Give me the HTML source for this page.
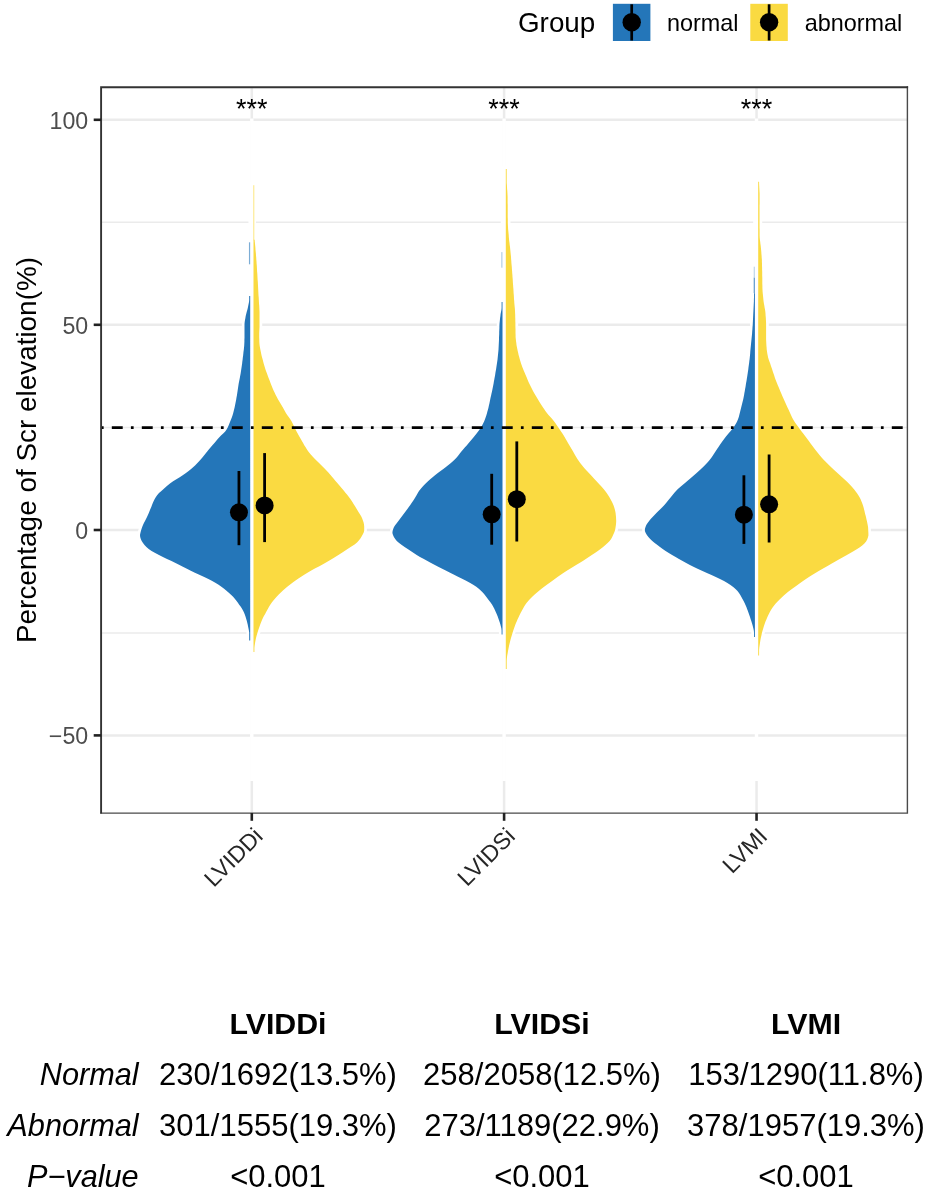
<!DOCTYPE html>
<html lang="en"><head><meta charset="utf-8"><title>Split violin plot</title>
<style>html,body{margin:0;padding:0;background:#fff}svg{display:block}svg text{font-family:"Liberation Sans",sans-serif}</style></head>
<body>
<svg width="925" height="1192" viewBox="0 0 925 1192">
<rect width="925" height="1192" fill="#fff"/>
<g stroke="#ebebeb" fill="none">
<line x1="101.0" x2="907.5" y1="222.3" y2="222.3" stroke-width="1.45"/>
<line x1="101.0" x2="907.5" y1="427.4" y2="427.4" stroke-width="1.45"/>
<line x1="101.0" x2="907.5" y1="632.9" y2="632.9" stroke-width="1.45"/>
<line x1="101.0" x2="907.5" y1="119.8" y2="119.8" stroke-width="2.5"/>
<line x1="101.0" x2="907.5" y1="324.8" y2="324.8" stroke-width="2.5"/>
<line x1="101.0" x2="907.5" y1="530.0" y2="530.0" stroke-width="2.5"/>
<line x1="101.0" x2="907.5" y1="735.4" y2="735.4" stroke-width="2.5"/>
<line x1="251.8" x2="251.8" y1="87.0" y2="813.0" stroke-width="2.5"/>
<line x1="504.1" x2="504.1" y1="87.0" y2="813.0" stroke-width="2.5"/>
<line x1="756.55" x2="756.55" y1="87.0" y2="813.0" stroke-width="2.5"/>
</g>
<path d="M250.2,296.0L249.2,296.0L249.2,298.0L249.2,300.0L249.0,302.0L248.6,304.0L248.2,306.0L247.8,307.9L247.3,309.9L246.7,311.9L246.2,313.9L245.7,315.9L245.4,317.9L245.0,319.9L244.7,321.9L244.5,323.9L244.5,325.9L244.5,327.9L244.5,329.9L244.5,331.8L244.5,333.8L244.5,335.8L244.5,337.8L244.4,339.8L244.4,341.8L244.3,343.8L244.2,345.8L244.0,347.8L243.8,349.8L243.5,351.8L243.3,353.7L243.1,355.7L242.8,357.7L242.6,359.7L242.3,361.7L242.1,363.7L241.8,365.7L241.5,367.7L241.2,369.7L240.9,371.7L240.6,373.7L240.2,375.7L239.9,377.6L239.5,379.6L239.1,381.6L238.7,383.6L238.4,385.6L238.1,387.6L237.8,389.6L237.5,391.6L237.2,393.6L236.9,395.6L236.5,397.6L236.2,399.5L235.8,401.5L235.4,403.5L235.0,405.5L234.6,407.5L234.1,409.5L233.6,411.5L233.1,413.5L232.5,415.5L231.8,417.5L231.0,419.5L230.2,421.5L229.4,423.4L228.6,425.4L227.7,427.4L226.6,429.4L225.2,431.4L223.2,433.4L221.0,435.4L219.1,437.4L217.3,439.4L215.7,441.4L214.0,443.4L212.4,445.3L210.7,447.3L209.0,449.3L207.4,451.3L205.8,453.3L204.2,455.3L202.6,457.3L200.9,459.3L199.1,461.3L197.2,463.3L195.3,465.3L193.1,467.3L190.8,469.2L188.3,471.2L185.6,473.2L182.7,475.2L179.7,477.2L176.4,479.2L173.1,481.2L170.3,483.2L167.8,485.2L165.5,487.2L163.3,489.2L161.1,491.2L159.0,493.1L157.3,495.1L155.9,497.1L154.7,499.1L153.7,501.1L152.8,503.1L152.0,505.1L151.3,507.1L150.4,509.1L149.6,511.1L148.8,513.1L147.9,515.0L147.0,517.0L146.0,519.0L145.0,521.0L143.9,523.0L143.0,525.0L142.2,527.0L141.5,529.0L140.9,531.0L140.4,533.0L140.0,535.0L140.2,537.0L140.8,538.9L141.7,540.9L143.0,542.9L144.5,544.9L146.4,546.9L148.7,548.9L151.6,550.9L155.2,552.9L159.0,554.9L162.9,556.9L167.0,558.9L171.0,560.8L175.0,562.8L179.0,564.8L182.9,566.8L186.9,568.8L190.8,570.8L194.9,572.8L199.3,574.8L203.7,576.8L207.9,578.8L211.8,580.8L215.3,582.8L218.6,584.7L221.4,586.7L224.1,588.7L226.5,590.7L228.8,592.7L231.0,594.7L233.1,596.7L234.8,598.7L236.4,600.7L237.9,602.7L239.2,604.7L240.6,606.6L241.9,608.6L243.0,610.6L244.0,612.6L244.8,614.6L245.5,616.6L246.1,618.6L246.7,620.6L247.2,622.6L247.7,624.6L248.1,626.6L248.5,628.6L248.9,630.5L249.2,632.5L249.2,634.5L249.2,636.5L249.2,638.5L249.2,640.5L250.2,640.5Z" fill="#fff" stroke="#fff" stroke-width="5.4" stroke-linejoin="round"/>
<path d="M253.5,239.7L254.6,239.7L254.8,241.7L255.0,243.7L255.2,245.7L255.4,247.7L255.5,249.7L255.7,251.7L255.9,253.6L256.0,255.6L256.2,257.6L256.3,259.6L256.5,261.6L256.6,263.6L256.8,265.6L256.9,267.6L257.0,269.6L257.1,271.6L257.3,273.6L257.4,275.6L257.5,277.5L257.6,279.5L257.8,281.5L257.9,283.5L258.0,285.5L258.1,287.5L258.2,289.5L258.3,291.5L258.4,293.5L258.5,295.5L258.7,297.5L258.8,299.5L258.9,301.4L259.0,303.4L259.2,305.4L259.3,307.4L259.4,309.4L259.5,311.4L259.5,313.4L259.5,315.4L259.5,317.4L259.5,319.4L259.5,321.4L259.5,323.4L259.5,325.3L259.5,327.3L259.4,329.3L259.3,331.3L259.2,333.3L259.2,335.3L259.2,337.3L259.3,339.3L259.3,341.3L259.4,343.3L259.6,345.3L259.9,347.3L260.3,349.2L260.7,351.2L261.1,353.2L261.5,355.2L262.0,357.2L262.6,359.2L263.1,361.2L263.6,363.2L264.2,365.2L264.8,367.2L265.4,369.2L266.1,371.2L266.8,373.1L267.5,375.1L268.2,377.1L269.0,379.1L269.8,381.1L270.5,383.1L271.3,385.1L272.1,387.1L272.9,389.1L273.8,391.1L274.8,393.1L275.7,395.1L276.8,397.1L277.8,399.0L279.0,401.0L280.2,403.0L281.4,405.0L282.6,407.0L283.7,409.0L284.8,411.0L285.9,413.0L287.2,415.0L288.7,417.0L290.1,419.0L291.4,421.0L292.4,422.9L293.4,424.9L294.3,426.9L295.3,428.9L296.3,430.9L297.4,432.9L298.5,434.9L299.6,436.9L300.8,438.9L301.9,440.9L303.1,442.9L304.1,444.9L305.3,446.8L306.5,448.8L307.8,450.8L309.3,452.8L311.0,454.8L312.8,456.8L314.7,458.8L316.7,460.8L318.8,462.8L320.8,464.8L322.8,466.8L324.8,468.8L326.7,470.7L328.6,472.7L330.3,474.7L332.0,476.7L333.7,478.7L335.3,480.7L337.1,482.7L338.8,484.7L340.5,486.7L342.2,488.7L343.9,490.7L345.4,492.7L347.0,494.6L348.5,496.6L350.0,498.6L351.4,500.6L352.7,502.6L353.9,504.6L355.2,506.6L356.4,508.6L357.6,510.6L358.8,512.6L360.1,514.6L361.3,516.6L362.2,518.6L362.9,520.5L363.6,522.5L364.0,524.5L364.2,526.5L364.2,528.5L364.2,530.5L363.7,532.5L362.7,534.5L361.6,536.5L360.4,538.5L358.8,540.5L357.0,542.5L354.6,544.4L351.4,546.4L348.3,548.4L345.3,550.4L342.3,552.4L339.2,554.4L336.0,556.4L332.8,558.4L329.4,560.4L326.0,562.4L322.5,564.4L318.9,566.4L315.3,568.3L311.7,570.3L308.3,572.3L305.0,574.3L301.9,576.3L298.8,578.3L295.9,580.3L293.1,582.3L290.5,584.3L287.9,586.3L285.5,588.3L283.2,590.3L281.1,592.2L279.0,594.2L277.1,596.2L275.3,598.2L273.6,600.2L272.0,602.2L270.6,604.2L269.3,606.2L268.2,608.2L267.1,610.2L266.0,612.2L265.0,614.2L263.9,616.1L262.9,618.1L262.0,620.1L261.2,622.1L260.4,624.1L259.7,626.1L259.0,628.1L258.3,630.1L257.7,632.1L257.1,634.1L256.5,636.1L256.0,638.1L255.6,640.0L255.2,642.0L254.9,644.0L254.6,646.0L254.4,648.0L254.4,650.0L254.4,652.0L253.5,652.0Z" fill="#fff" stroke="#fff" stroke-width="5.4" stroke-linejoin="round"/>
<line x1="251.8" x2="251.8" y1="118.4" y2="781" stroke="#fff" stroke-width="3.4"/>
<line x1="252.2" x2="252.2" y1="182.2" y2="296.0" stroke="#fff" stroke-width="7.5"/>
<path d="M250.2,296.0L249.2,296.0L249.2,298.0L249.2,300.0L249.0,302.0L248.6,304.0L248.2,306.0L247.8,307.9L247.3,309.9L246.7,311.9L246.2,313.9L245.7,315.9L245.4,317.9L245.0,319.9L244.7,321.9L244.5,323.9L244.5,325.9L244.5,327.9L244.5,329.9L244.5,331.8L244.5,333.8L244.5,335.8L244.5,337.8L244.4,339.8L244.4,341.8L244.3,343.8L244.2,345.8L244.0,347.8L243.8,349.8L243.5,351.8L243.3,353.7L243.1,355.7L242.8,357.7L242.6,359.7L242.3,361.7L242.1,363.7L241.8,365.7L241.5,367.7L241.2,369.7L240.9,371.7L240.6,373.7L240.2,375.7L239.9,377.6L239.5,379.6L239.1,381.6L238.7,383.6L238.4,385.6L238.1,387.6L237.8,389.6L237.5,391.6L237.2,393.6L236.9,395.6L236.5,397.6L236.2,399.5L235.8,401.5L235.4,403.5L235.0,405.5L234.6,407.5L234.1,409.5L233.6,411.5L233.1,413.5L232.5,415.5L231.8,417.5L231.0,419.5L230.2,421.5L229.4,423.4L228.6,425.4L227.7,427.4L226.6,429.4L225.2,431.4L223.2,433.4L221.0,435.4L219.1,437.4L217.3,439.4L215.7,441.4L214.0,443.4L212.4,445.3L210.7,447.3L209.0,449.3L207.4,451.3L205.8,453.3L204.2,455.3L202.6,457.3L200.9,459.3L199.1,461.3L197.2,463.3L195.3,465.3L193.1,467.3L190.8,469.2L188.3,471.2L185.6,473.2L182.7,475.2L179.7,477.2L176.4,479.2L173.1,481.2L170.3,483.2L167.8,485.2L165.5,487.2L163.3,489.2L161.1,491.2L159.0,493.1L157.3,495.1L155.9,497.1L154.7,499.1L153.7,501.1L152.8,503.1L152.0,505.1L151.3,507.1L150.4,509.1L149.6,511.1L148.8,513.1L147.9,515.0L147.0,517.0L146.0,519.0L145.0,521.0L143.9,523.0L143.0,525.0L142.2,527.0L141.5,529.0L140.9,531.0L140.4,533.0L140.0,535.0L140.2,537.0L140.8,538.9L141.7,540.9L143.0,542.9L144.5,544.9L146.4,546.9L148.7,548.9L151.6,550.9L155.2,552.9L159.0,554.9L162.9,556.9L167.0,558.9L171.0,560.8L175.0,562.8L179.0,564.8L182.9,566.8L186.9,568.8L190.8,570.8L194.9,572.8L199.3,574.8L203.7,576.8L207.9,578.8L211.8,580.8L215.3,582.8L218.6,584.7L221.4,586.7L224.1,588.7L226.5,590.7L228.8,592.7L231.0,594.7L233.1,596.7L234.8,598.7L236.4,600.7L237.9,602.7L239.2,604.7L240.6,606.6L241.9,608.6L243.0,610.6L244.0,612.6L244.8,614.6L245.5,616.6L246.1,618.6L246.7,620.6L247.2,622.6L247.7,624.6L248.1,626.6L248.5,628.6L248.9,630.5L249.2,632.5L249.2,634.5L249.2,636.5L249.2,638.5L249.2,640.5L250.2,640.5Z" fill="#2476B9"/>
<path d="M253.5,239.7L254.6,239.7L254.8,241.7L255.0,243.7L255.2,245.7L255.4,247.7L255.5,249.7L255.7,251.7L255.9,253.6L256.0,255.6L256.2,257.6L256.3,259.6L256.5,261.6L256.6,263.6L256.8,265.6L256.9,267.6L257.0,269.6L257.1,271.6L257.3,273.6L257.4,275.6L257.5,277.5L257.6,279.5L257.8,281.5L257.9,283.5L258.0,285.5L258.1,287.5L258.2,289.5L258.3,291.5L258.4,293.5L258.5,295.5L258.7,297.5L258.8,299.5L258.9,301.4L259.0,303.4L259.2,305.4L259.3,307.4L259.4,309.4L259.5,311.4L259.5,313.4L259.5,315.4L259.5,317.4L259.5,319.4L259.5,321.4L259.5,323.4L259.5,325.3L259.5,327.3L259.4,329.3L259.3,331.3L259.2,333.3L259.2,335.3L259.2,337.3L259.3,339.3L259.3,341.3L259.4,343.3L259.6,345.3L259.9,347.3L260.3,349.2L260.7,351.2L261.1,353.2L261.5,355.2L262.0,357.2L262.6,359.2L263.1,361.2L263.6,363.2L264.2,365.2L264.8,367.2L265.4,369.2L266.1,371.2L266.8,373.1L267.5,375.1L268.2,377.1L269.0,379.1L269.8,381.1L270.5,383.1L271.3,385.1L272.1,387.1L272.9,389.1L273.8,391.1L274.8,393.1L275.7,395.1L276.8,397.1L277.8,399.0L279.0,401.0L280.2,403.0L281.4,405.0L282.6,407.0L283.7,409.0L284.8,411.0L285.9,413.0L287.2,415.0L288.7,417.0L290.1,419.0L291.4,421.0L292.4,422.9L293.4,424.9L294.3,426.9L295.3,428.9L296.3,430.9L297.4,432.9L298.5,434.9L299.6,436.9L300.8,438.9L301.9,440.9L303.1,442.9L304.1,444.9L305.3,446.8L306.5,448.8L307.8,450.8L309.3,452.8L311.0,454.8L312.8,456.8L314.7,458.8L316.7,460.8L318.8,462.8L320.8,464.8L322.8,466.8L324.8,468.8L326.7,470.7L328.6,472.7L330.3,474.7L332.0,476.7L333.7,478.7L335.3,480.7L337.1,482.7L338.8,484.7L340.5,486.7L342.2,488.7L343.9,490.7L345.4,492.7L347.0,494.6L348.5,496.6L350.0,498.6L351.4,500.6L352.7,502.6L353.9,504.6L355.2,506.6L356.4,508.6L357.6,510.6L358.8,512.6L360.1,514.6L361.3,516.6L362.2,518.6L362.9,520.5L363.6,522.5L364.0,524.5L364.2,526.5L364.2,528.5L364.2,530.5L363.7,532.5L362.7,534.5L361.6,536.5L360.4,538.5L358.8,540.5L357.0,542.5L354.6,544.4L351.4,546.4L348.3,548.4L345.3,550.4L342.3,552.4L339.2,554.4L336.0,556.4L332.8,558.4L329.4,560.4L326.0,562.4L322.5,564.4L318.9,566.4L315.3,568.3L311.7,570.3L308.3,572.3L305.0,574.3L301.9,576.3L298.8,578.3L295.9,580.3L293.1,582.3L290.5,584.3L287.9,586.3L285.5,588.3L283.2,590.3L281.1,592.2L279.0,594.2L277.1,596.2L275.3,598.2L273.6,600.2L272.0,602.2L270.6,604.2L269.3,606.2L268.2,608.2L267.1,610.2L266.0,612.2L265.0,614.2L263.9,616.1L262.9,618.1L262.0,620.1L261.2,622.1L260.4,624.1L259.7,626.1L259.0,628.1L258.3,630.1L257.7,632.1L257.1,634.1L256.5,636.1L256.0,638.1L255.6,640.0L255.2,642.0L254.9,644.0L254.6,646.0L254.4,648.0L254.4,650.0L254.4,652.0L253.5,652.0Z" fill="#FADA41"/>
<rect x="253.15" y="185.2" width="1.2" height="55.0" fill="#FADA41" opacity="0.55"/>
<rect x="248.95" y="242.3" width="1.2" height="22.0" fill="#2476B9" opacity="0.6"/>
<path d="M502.5,302.0L501.6,302.0L501.6,304.0L501.6,306.0L501.6,308.0L501.4,310.0L501.0,312.0L500.6,313.9L500.4,315.9L500.1,317.9L499.9,319.9L499.7,321.9L499.5,323.9L499.4,325.9L499.4,327.9L499.3,329.9L499.2,331.9L499.2,333.9L499.1,335.8L499.0,337.8L499.0,339.8L498.9,341.8L498.8,343.8L498.7,345.8L498.6,347.8L498.5,349.8L498.3,351.8L498.1,353.8L497.9,355.8L497.7,357.7L497.5,359.7L497.2,361.7L496.9,363.7L496.6,365.7L496.3,367.7L496.0,369.7L495.6,371.7L495.3,373.7L495.0,375.7L494.6,377.7L494.3,379.6L493.9,381.6L493.6,383.6L493.2,385.6L492.8,387.6L492.4,389.6L492.0,391.6L491.5,393.6L491.1,395.6L490.6,397.6L490.2,399.6L489.8,401.6L489.4,403.5L488.9,405.5L488.5,407.5L488.0,409.5L487.4,411.5L486.9,413.5L486.3,415.5L485.6,417.5L484.9,419.5L484.1,421.5L483.1,423.5L482.1,425.4L480.9,427.4L479.6,429.4L478.1,431.4L476.6,433.4L475.0,435.4L473.4,437.4L471.7,439.4L470.0,441.4L468.3,443.4L466.7,445.4L465.0,447.3L463.3,449.3L461.6,451.3L460.0,453.3L458.5,455.3L456.9,457.3L455.0,459.3L452.9,461.3L450.6,463.3L448.1,465.3L445.6,467.3L443.0,469.2L440.2,471.2L437.5,473.2L435.0,475.2L432.6,477.2L430.2,479.2L428.0,481.2L425.9,483.2L423.9,485.2L422.1,487.2L420.4,489.2L419.0,491.1L417.8,493.1L416.7,495.1L415.5,497.1L414.3,499.1L413.0,501.1L411.6,503.1L410.3,505.1L408.8,507.1L407.4,509.1L405.9,511.1L404.4,513.0L402.9,515.0L401.4,517.0L399.9,519.0L398.4,521.0L396.9,523.0L395.3,525.0L394.0,527.0L393.2,529.0L392.6,531.0L392.4,533.0L393.0,534.9L393.9,536.9L395.2,538.9L396.8,540.9L399.1,542.9L401.8,544.9L404.6,546.9L407.7,548.9L410.7,550.9L413.7,552.9L416.7,554.9L420.0,556.9L423.4,558.8L427.0,560.8L430.6,562.8L434.4,564.8L438.2,566.8L442.2,568.8L446.2,570.8L450.1,572.8L454.1,574.8L458.0,576.8L462.1,578.8L466.1,580.7L469.8,582.7L473.2,584.7L476.3,586.7L478.8,588.7L481.0,590.7L483.0,592.7L484.7,594.7L486.2,596.7L487.7,598.7L489.2,600.7L490.6,602.6L492.0,604.6L493.1,606.6L494.2,608.6L495.1,610.6L496.0,612.6L496.9,614.6L497.7,616.6L498.4,618.6L499.1,620.6L499.8,622.6L500.4,624.5L500.9,626.5L501.4,628.5L501.6,630.5L501.6,632.5L501.6,634.5L502.5,634.5Z" fill="#fff" stroke="#fff" stroke-width="5.4" stroke-linejoin="round"/>
<path d="M505.8,169.1L506.7,169.1L506.7,171.1L506.7,173.1L506.7,175.1L506.7,177.1L506.7,179.1L506.7,181.1L506.7,183.1L506.9,185.1L507.0,187.1L507.1,189.1L507.3,191.1L507.4,193.1L507.5,195.1L507.6,197.1L507.6,199.1L507.6,201.1L507.6,203.1L507.7,205.1L507.7,207.1L507.7,209.1L507.7,211.1L507.7,213.1L507.7,215.1L507.7,217.1L507.8,219.1L507.8,221.1L507.8,223.1L507.9,225.1L508.0,227.1L508.1,229.1L508.3,231.1L508.5,233.1L508.7,235.1L508.8,237.1L509.0,239.1L509.2,241.1L509.5,243.1L509.7,245.1L510.0,247.1L510.2,249.1L510.4,251.1L510.6,253.1L510.8,255.1L511.0,257.1L511.1,259.1L511.3,261.1L511.4,263.1L511.6,265.1L511.8,267.1L511.9,269.1L512.1,271.1L512.2,273.1L512.4,275.1L512.5,277.1L512.7,279.1L512.8,281.1L512.9,283.1L513.1,285.1L513.2,287.1L513.4,289.1L513.5,291.1L513.6,293.1L513.8,295.1L513.9,297.1L514.0,299.1L514.2,301.1L514.3,303.1L514.5,305.1L514.7,307.1L514.9,309.1L515.0,311.1L515.1,313.1L515.2,315.1L515.2,317.1L515.3,319.1L515.3,321.1L515.4,323.1L515.4,325.1L515.4,327.1L515.5,329.1L515.5,331.1L515.5,333.1L515.6,335.1L515.6,337.1L515.8,339.1L516.0,341.1L516.3,343.1L516.5,345.1L516.9,347.1L517.3,349.1L517.7,351.1L518.2,353.1L518.6,355.1L519.2,357.1L519.7,359.1L520.3,361.1L520.9,363.1L521.6,365.1L522.3,367.1L523.1,369.1L523.9,371.1L524.8,373.1L525.6,375.1L526.5,377.1L527.3,379.1L528.1,381.1L529.0,383.1L530.0,385.1L531.0,387.1L532.0,389.1L533.0,391.1L534.1,393.1L535.3,395.1L536.5,397.1L537.7,399.1L538.9,401.1L540.1,403.1L541.4,405.1L542.7,407.1L544.1,409.1L545.4,411.1L546.9,413.1L548.5,415.1L550.4,417.1L552.2,419.0L553.8,421.0L555.3,423.0L556.6,425.0L558.0,427.0L559.4,429.0L560.7,431.0L562.1,433.0L563.4,435.0L564.6,437.0L565.7,439.0L566.9,441.0L568.0,443.0L569.2,445.0L570.4,447.0L571.6,449.0L572.8,451.0L573.9,453.0L575.0,455.0L576.2,457.0L577.4,459.0L578.8,461.0L580.2,463.0L581.8,465.0L583.4,467.0L585.1,469.0L587.0,471.0L588.9,473.0L590.8,475.0L592.6,477.0L594.4,479.0L596.3,481.0L598.1,483.0L600.0,485.0L601.9,487.0L603.6,489.0L605.2,491.0L606.7,493.0L608.0,495.0L609.3,497.0L610.4,499.0L611.5,501.0L612.5,503.0L613.4,505.0L614.1,507.0L614.7,509.0L615.2,511.0L615.6,513.0L615.8,515.0L616.0,517.0L616.1,519.0L616.2,521.0L616.1,523.0L615.9,525.0L615.6,527.0L615.3,529.0L614.8,531.0L614.0,533.0L613.1,535.0L612.2,537.0L611.1,539.0L609.6,541.0L607.6,543.0L605.4,545.0L603.1,547.0L600.5,549.0L597.8,551.0L594.9,553.0L591.8,555.0L588.8,557.0L585.8,559.0L582.8,561.0L579.5,563.0L576.1,565.0L572.9,567.0L569.6,569.0L566.4,571.0L563.3,573.0L560.4,575.0L557.5,577.0L554.8,579.0L552.1,581.0L549.3,583.0L546.5,585.0L543.8,587.0L541.2,589.0L538.8,591.0L536.4,593.0L534.1,595.0L532.0,597.0L530.0,599.0L528.2,601.0L526.5,603.0L525.1,605.0L523.9,607.0L522.8,609.0L521.7,611.0L520.6,613.0L519.6,615.0L518.7,617.0L517.7,619.0L516.9,621.0L516.0,623.0L515.2,625.0L514.5,627.0L513.8,629.0L513.1,631.0L512.5,633.0L511.9,635.0L511.3,637.0L510.7,639.0L510.2,641.0L509.7,643.0L509.2,645.0L508.8,647.0L508.4,649.0L508.0,651.0L507.7,653.0L507.3,655.0L507.0,657.0L506.8,659.0L506.7,661.0L506.7,663.0L506.7,665.0L506.7,667.0L506.7,669.0L505.8,669.0Z" fill="#fff" stroke="#fff" stroke-width="5.4" stroke-linejoin="round"/>
<line x1="504.1" x2="504.1" y1="118.4" y2="781" stroke="#fff" stroke-width="3.4"/>
<line x1="504.5" x2="504.5" y1="166.1" y2="302.0" stroke="#fff" stroke-width="7.5"/>
<path d="M502.5,302.0L501.6,302.0L501.6,304.0L501.6,306.0L501.6,308.0L501.4,310.0L501.0,312.0L500.6,313.9L500.4,315.9L500.1,317.9L499.9,319.9L499.7,321.9L499.5,323.9L499.4,325.9L499.4,327.9L499.3,329.9L499.2,331.9L499.2,333.9L499.1,335.8L499.0,337.8L499.0,339.8L498.9,341.8L498.8,343.8L498.7,345.8L498.6,347.8L498.5,349.8L498.3,351.8L498.1,353.8L497.9,355.8L497.7,357.7L497.5,359.7L497.2,361.7L496.9,363.7L496.6,365.7L496.3,367.7L496.0,369.7L495.6,371.7L495.3,373.7L495.0,375.7L494.6,377.7L494.3,379.6L493.9,381.6L493.6,383.6L493.2,385.6L492.8,387.6L492.4,389.6L492.0,391.6L491.5,393.6L491.1,395.6L490.6,397.6L490.2,399.6L489.8,401.6L489.4,403.5L488.9,405.5L488.5,407.5L488.0,409.5L487.4,411.5L486.9,413.5L486.3,415.5L485.6,417.5L484.9,419.5L484.1,421.5L483.1,423.5L482.1,425.4L480.9,427.4L479.6,429.4L478.1,431.4L476.6,433.4L475.0,435.4L473.4,437.4L471.7,439.4L470.0,441.4L468.3,443.4L466.7,445.4L465.0,447.3L463.3,449.3L461.6,451.3L460.0,453.3L458.5,455.3L456.9,457.3L455.0,459.3L452.9,461.3L450.6,463.3L448.1,465.3L445.6,467.3L443.0,469.2L440.2,471.2L437.5,473.2L435.0,475.2L432.6,477.2L430.2,479.2L428.0,481.2L425.9,483.2L423.9,485.2L422.1,487.2L420.4,489.2L419.0,491.1L417.8,493.1L416.7,495.1L415.5,497.1L414.3,499.1L413.0,501.1L411.6,503.1L410.3,505.1L408.8,507.1L407.4,509.1L405.9,511.1L404.4,513.0L402.9,515.0L401.4,517.0L399.9,519.0L398.4,521.0L396.9,523.0L395.3,525.0L394.0,527.0L393.2,529.0L392.6,531.0L392.4,533.0L393.0,534.9L393.9,536.9L395.2,538.9L396.8,540.9L399.1,542.9L401.8,544.9L404.6,546.9L407.7,548.9L410.7,550.9L413.7,552.9L416.7,554.9L420.0,556.9L423.4,558.8L427.0,560.8L430.6,562.8L434.4,564.8L438.2,566.8L442.2,568.8L446.2,570.8L450.1,572.8L454.1,574.8L458.0,576.8L462.1,578.8L466.1,580.7L469.8,582.7L473.2,584.7L476.3,586.7L478.8,588.7L481.0,590.7L483.0,592.7L484.7,594.7L486.2,596.7L487.7,598.7L489.2,600.7L490.6,602.6L492.0,604.6L493.1,606.6L494.2,608.6L495.1,610.6L496.0,612.6L496.9,614.6L497.7,616.6L498.4,618.6L499.1,620.6L499.8,622.6L500.4,624.5L500.9,626.5L501.4,628.5L501.6,630.5L501.6,632.5L501.6,634.5L502.5,634.5Z" fill="#2476B9"/>
<path d="M505.8,169.1L506.7,169.1L506.7,171.1L506.7,173.1L506.7,175.1L506.7,177.1L506.7,179.1L506.7,181.1L506.7,183.1L506.9,185.1L507.0,187.1L507.1,189.1L507.3,191.1L507.4,193.1L507.5,195.1L507.6,197.1L507.6,199.1L507.6,201.1L507.6,203.1L507.7,205.1L507.7,207.1L507.7,209.1L507.7,211.1L507.7,213.1L507.7,215.1L507.7,217.1L507.8,219.1L507.8,221.1L507.8,223.1L507.9,225.1L508.0,227.1L508.1,229.1L508.3,231.1L508.5,233.1L508.7,235.1L508.8,237.1L509.0,239.1L509.2,241.1L509.5,243.1L509.7,245.1L510.0,247.1L510.2,249.1L510.4,251.1L510.6,253.1L510.8,255.1L511.0,257.1L511.1,259.1L511.3,261.1L511.4,263.1L511.6,265.1L511.8,267.1L511.9,269.1L512.1,271.1L512.2,273.1L512.4,275.1L512.5,277.1L512.7,279.1L512.8,281.1L512.9,283.1L513.1,285.1L513.2,287.1L513.4,289.1L513.5,291.1L513.6,293.1L513.8,295.1L513.9,297.1L514.0,299.1L514.2,301.1L514.3,303.1L514.5,305.1L514.7,307.1L514.9,309.1L515.0,311.1L515.1,313.1L515.2,315.1L515.2,317.1L515.3,319.1L515.3,321.1L515.4,323.1L515.4,325.1L515.4,327.1L515.5,329.1L515.5,331.1L515.5,333.1L515.6,335.1L515.6,337.1L515.8,339.1L516.0,341.1L516.3,343.1L516.5,345.1L516.9,347.1L517.3,349.1L517.7,351.1L518.2,353.1L518.6,355.1L519.2,357.1L519.7,359.1L520.3,361.1L520.9,363.1L521.6,365.1L522.3,367.1L523.1,369.1L523.9,371.1L524.8,373.1L525.6,375.1L526.5,377.1L527.3,379.1L528.1,381.1L529.0,383.1L530.0,385.1L531.0,387.1L532.0,389.1L533.0,391.1L534.1,393.1L535.3,395.1L536.5,397.1L537.7,399.1L538.9,401.1L540.1,403.1L541.4,405.1L542.7,407.1L544.1,409.1L545.4,411.1L546.9,413.1L548.5,415.1L550.4,417.1L552.2,419.0L553.8,421.0L555.3,423.0L556.6,425.0L558.0,427.0L559.4,429.0L560.7,431.0L562.1,433.0L563.4,435.0L564.6,437.0L565.7,439.0L566.9,441.0L568.0,443.0L569.2,445.0L570.4,447.0L571.6,449.0L572.8,451.0L573.9,453.0L575.0,455.0L576.2,457.0L577.4,459.0L578.8,461.0L580.2,463.0L581.8,465.0L583.4,467.0L585.1,469.0L587.0,471.0L588.9,473.0L590.8,475.0L592.6,477.0L594.4,479.0L596.3,481.0L598.1,483.0L600.0,485.0L601.9,487.0L603.6,489.0L605.2,491.0L606.7,493.0L608.0,495.0L609.3,497.0L610.4,499.0L611.5,501.0L612.5,503.0L613.4,505.0L614.1,507.0L614.7,509.0L615.2,511.0L615.6,513.0L615.8,515.0L616.0,517.0L616.1,519.0L616.2,521.0L616.1,523.0L615.9,525.0L615.6,527.0L615.3,529.0L614.8,531.0L614.0,533.0L613.1,535.0L612.2,537.0L611.1,539.0L609.6,541.0L607.6,543.0L605.4,545.0L603.1,547.0L600.5,549.0L597.8,551.0L594.9,553.0L591.8,555.0L588.8,557.0L585.8,559.0L582.8,561.0L579.5,563.0L576.1,565.0L572.9,567.0L569.6,569.0L566.4,571.0L563.3,573.0L560.4,575.0L557.5,577.0L554.8,579.0L552.1,581.0L549.3,583.0L546.5,585.0L543.8,587.0L541.2,589.0L538.8,591.0L536.4,593.0L534.1,595.0L532.0,597.0L530.0,599.0L528.2,601.0L526.5,603.0L525.1,605.0L523.9,607.0L522.8,609.0L521.7,611.0L520.6,613.0L519.6,615.0L518.7,617.0L517.7,619.0L516.9,621.0L516.0,623.0L515.2,625.0L514.5,627.0L513.8,629.0L513.1,631.0L512.5,633.0L511.9,635.0L511.3,637.0L510.7,639.0L510.2,641.0L509.7,643.0L509.2,645.0L508.8,647.0L508.4,649.0L508.0,651.0L507.7,653.0L507.3,655.0L507.0,657.0L506.8,659.0L506.7,661.0L506.7,663.0L506.7,665.0L506.7,667.0L506.7,669.0L505.8,669.0Z" fill="#FADA41"/>
<rect x="501.25" y="252.1" width="1.2" height="15.6" fill="#2476B9" opacity="0.35"/>
<path d="M754.9,293.2L754.0,293.2L754.0,295.2L754.0,297.2L753.9,299.2L753.9,301.2L753.8,303.2L753.7,305.2L753.6,307.2L753.5,309.2L753.4,311.2L753.3,313.2L753.2,315.2L753.1,317.2L753.0,319.2L752.9,321.2L752.8,323.2L752.7,325.2L752.5,327.2L752.4,329.2L752.2,331.2L752.1,333.2L751.9,335.2L751.7,337.2L751.5,339.2L751.3,341.2L751.1,343.2L750.9,345.2L750.7,347.2L750.5,349.2L750.3,351.2L750.2,353.2L750.0,355.2L749.8,357.2L749.6,359.2L749.3,361.2L749.1,363.2L748.8,365.2L748.5,367.2L748.3,369.2L748.0,371.2L747.7,373.2L747.4,375.2L747.1,377.2L746.8,379.1L746.5,381.1L746.1,383.1L745.8,385.1L745.5,387.1L745.1,389.1L744.8,391.1L744.4,393.1L744.1,395.1L743.7,397.1L743.3,399.1L742.8,401.1L742.3,403.1L741.8,405.1L741.3,407.1L740.8,409.1L740.3,411.1L739.8,413.1L739.3,415.1L738.8,417.1L738.1,419.1L737.3,421.1L736.3,423.1L735.1,425.1L733.8,427.1L732.3,429.1L730.7,431.1L728.9,433.1L727.2,435.1L725.6,437.1L724.1,439.1L722.6,441.1L721.2,443.1L719.8,445.1L718.5,447.1L717.1,449.1L715.8,451.1L714.5,453.1L713.2,455.1L711.9,457.1L710.4,459.1L708.8,461.1L707.0,463.1L705.1,465.1L703.1,467.1L701.0,469.1L698.8,471.1L696.6,473.1L694.3,475.1L692.0,477.1L689.7,479.1L687.3,481.1L685.0,483.1L682.6,485.1L680.2,487.1L677.9,489.1L676.0,491.1L674.2,493.1L672.6,495.1L671.0,497.1L669.3,499.1L667.7,501.1L666.1,503.1L664.4,505.1L662.5,507.1L660.5,509.1L658.4,511.1L656.4,513.1L654.5,515.1L652.6,517.1L650.7,519.1L649.1,521.1L647.6,523.1L646.3,525.1L645.5,527.1L644.9,529.1L644.9,531.1L645.7,533.1L646.9,535.1L648.4,537.1L650.2,539.1L652.3,541.1L654.7,543.1L657.4,545.1L660.0,547.1L662.7,549.1L665.6,551.0L668.8,553.0L672.1,555.0L675.6,557.0L679.0,559.0L682.6,561.0L686.2,563.0L689.9,565.0L693.9,567.0L698.1,569.0L702.5,571.0L706.9,573.0L711.5,575.0L715.8,577.0L720.0,579.0L724.0,581.0L727.4,583.0L730.5,585.0L733.2,587.0L735.5,589.0L737.5,591.0L739.0,593.0L740.3,595.0L741.4,597.0L742.5,599.0L743.6,601.0L744.6,603.0L745.5,605.0L746.4,607.0L747.1,609.0L747.9,611.0L748.6,613.0L749.3,615.0L750.0,617.0L750.6,619.0L751.3,621.0L751.9,623.0L752.5,625.0L753.0,627.0L753.5,629.0L753.9,631.0L754.0,633.0L754.0,635.0L754.0,637.0L754.9,637.0Z" fill="#fff" stroke="#fff" stroke-width="5.4" stroke-linejoin="round"/>
<path d="M758.2,181.7L759.1,181.7L759.1,183.7L759.2,185.7L759.3,187.7L759.4,189.7L759.5,191.7L759.6,193.7L759.6,195.7L759.6,197.7L759.6,199.7L759.6,201.7L759.6,203.7L759.5,205.7L759.5,207.7L759.5,209.7L759.5,211.7L759.5,213.7L759.5,215.7L759.5,217.7L759.5,219.7L759.5,221.7L759.5,223.7L759.5,225.7L759.5,227.7L759.6,229.7L759.6,231.7L759.6,233.7L759.6,235.7L759.7,237.7L759.9,239.7L760.2,241.7L760.4,243.7L760.7,245.7L760.9,247.7L761.1,249.7L761.3,251.7L761.4,253.7L761.6,255.7L761.7,257.7L761.9,259.7L761.9,261.7L762.0,263.7L762.0,265.7L762.1,267.7L762.1,269.7L762.2,271.7L762.2,273.7L762.2,275.7L762.3,277.7L762.3,279.7L762.3,281.7L762.3,283.7L762.4,285.7L762.4,287.7L762.5,289.7L762.6,291.7L762.8,293.7L763.0,295.7L763.2,297.7L763.4,299.7L763.6,301.6L763.9,303.6L764.3,305.6L764.6,307.6L765.0,309.6L765.3,311.6L765.5,313.6L765.6,315.6L765.8,317.6L765.9,319.6L766.0,321.6L766.1,323.6L766.1,325.6L766.1,327.6L766.1,329.6L766.1,331.6L766.1,333.6L766.1,335.6L766.1,337.6L766.1,339.6L766.2,341.6L766.3,343.6L766.4,345.6L766.6,347.6L766.7,349.6L767.0,351.6L767.3,353.6L767.7,355.6L768.1,357.6L768.7,359.6L769.4,361.6L770.2,363.6L770.8,365.6L771.5,367.6L772.2,369.6L772.8,371.6L773.5,373.6L774.2,375.6L774.8,377.6L775.5,379.6L776.3,381.6L777.1,383.6L777.9,385.6L778.8,387.6L779.6,389.6L780.4,391.6L781.3,393.6L782.1,395.6L783.0,397.6L783.9,399.6L784.8,401.6L785.7,403.6L786.6,405.6L787.5,407.6L788.5,409.6L789.4,411.6L790.3,413.6L791.2,415.6L792.1,417.6L793.2,419.6L794.4,421.6L795.7,423.6L797.2,425.6L798.7,427.6L800.1,429.6L801.6,431.6L803.2,433.6L804.7,435.6L806.2,437.6L807.7,439.6L809.2,441.6L810.6,443.6L812.1,445.6L813.6,447.6L815.1,449.6L816.7,451.6L818.3,453.6L819.9,455.6L821.6,457.6L823.4,459.6L825.4,461.6L827.4,463.6L829.4,465.6L831.5,467.6L833.6,469.6L835.8,471.6L838.0,473.6L840.2,475.6L842.4,477.6L844.6,479.6L846.8,481.6L848.8,483.6L850.7,485.6L852.5,487.6L854.2,489.6L855.7,491.6L857.2,493.6L858.5,495.6L859.7,497.6L860.7,499.6L861.5,501.6L862.3,503.6L863.0,505.6L863.6,507.6L864.1,509.6L864.6,511.6L865.0,513.6L865.6,515.6L866.1,517.6L866.5,519.6L867.0,521.6L867.4,523.6L867.8,525.6L868.1,527.6L868.2,529.6L868.3,531.6L868.4,533.6L868.4,535.6L867.9,537.5L867.2,539.5L866.1,541.5L864.4,543.5L862.2,545.5L859.5,547.5L856.3,549.5L853.0,551.5L849.5,553.5L846.0,555.5L842.4,557.5L838.8,559.5L835.3,561.5L831.8,563.5L828.4,565.5L824.9,567.5L821.3,569.5L817.9,571.5L814.6,573.5L811.3,575.5L808.2,577.5L805.2,579.5L802.3,581.5L799.5,583.5L796.8,585.5L794.0,587.5L791.2,589.5L788.5,591.5L786.1,593.5L783.8,595.5L781.7,597.5L779.6,599.5L777.6,601.5L775.7,603.5L774.1,605.5L772.6,607.5L771.3,609.5L770.1,611.5L769.1,613.5L768.1,615.5L767.2,617.5L766.4,619.5L765.5,621.5L764.8,623.5L764.1,625.5L763.5,627.5L762.9,629.5L762.3,631.5L761.8,633.5L761.4,635.5L760.9,637.5L760.5,639.5L760.2,641.5L759.9,643.5L759.6,645.5L759.3,647.5L759.1,649.5L759.1,651.5L759.1,653.5L759.1,655.5L758.2,655.5Z" fill="#fff" stroke="#fff" stroke-width="5.4" stroke-linejoin="round"/>
<line x1="756.5" x2="756.5" y1="118.4" y2="781" stroke="#fff" stroke-width="3.4"/>
<line x1="756.9" x2="756.9" y1="178.7" y2="293.2" stroke="#fff" stroke-width="7.5"/>
<path d="M754.9,293.2L754.0,293.2L754.0,295.2L754.0,297.2L753.9,299.2L753.9,301.2L753.8,303.2L753.7,305.2L753.6,307.2L753.5,309.2L753.4,311.2L753.3,313.2L753.2,315.2L753.1,317.2L753.0,319.2L752.9,321.2L752.8,323.2L752.7,325.2L752.5,327.2L752.4,329.2L752.2,331.2L752.1,333.2L751.9,335.2L751.7,337.2L751.5,339.2L751.3,341.2L751.1,343.2L750.9,345.2L750.7,347.2L750.5,349.2L750.3,351.2L750.2,353.2L750.0,355.2L749.8,357.2L749.6,359.2L749.3,361.2L749.1,363.2L748.8,365.2L748.5,367.2L748.3,369.2L748.0,371.2L747.7,373.2L747.4,375.2L747.1,377.2L746.8,379.1L746.5,381.1L746.1,383.1L745.8,385.1L745.5,387.1L745.1,389.1L744.8,391.1L744.4,393.1L744.1,395.1L743.7,397.1L743.3,399.1L742.8,401.1L742.3,403.1L741.8,405.1L741.3,407.1L740.8,409.1L740.3,411.1L739.8,413.1L739.3,415.1L738.8,417.1L738.1,419.1L737.3,421.1L736.3,423.1L735.1,425.1L733.8,427.1L732.3,429.1L730.7,431.1L728.9,433.1L727.2,435.1L725.6,437.1L724.1,439.1L722.6,441.1L721.2,443.1L719.8,445.1L718.5,447.1L717.1,449.1L715.8,451.1L714.5,453.1L713.2,455.1L711.9,457.1L710.4,459.1L708.8,461.1L707.0,463.1L705.1,465.1L703.1,467.1L701.0,469.1L698.8,471.1L696.6,473.1L694.3,475.1L692.0,477.1L689.7,479.1L687.3,481.1L685.0,483.1L682.6,485.1L680.2,487.1L677.9,489.1L676.0,491.1L674.2,493.1L672.6,495.1L671.0,497.1L669.3,499.1L667.7,501.1L666.1,503.1L664.4,505.1L662.5,507.1L660.5,509.1L658.4,511.1L656.4,513.1L654.5,515.1L652.6,517.1L650.7,519.1L649.1,521.1L647.6,523.1L646.3,525.1L645.5,527.1L644.9,529.1L644.9,531.1L645.7,533.1L646.9,535.1L648.4,537.1L650.2,539.1L652.3,541.1L654.7,543.1L657.4,545.1L660.0,547.1L662.7,549.1L665.6,551.0L668.8,553.0L672.1,555.0L675.6,557.0L679.0,559.0L682.6,561.0L686.2,563.0L689.9,565.0L693.9,567.0L698.1,569.0L702.5,571.0L706.9,573.0L711.5,575.0L715.8,577.0L720.0,579.0L724.0,581.0L727.4,583.0L730.5,585.0L733.2,587.0L735.5,589.0L737.5,591.0L739.0,593.0L740.3,595.0L741.4,597.0L742.5,599.0L743.6,601.0L744.6,603.0L745.5,605.0L746.4,607.0L747.1,609.0L747.9,611.0L748.6,613.0L749.3,615.0L750.0,617.0L750.6,619.0L751.3,621.0L751.9,623.0L752.5,625.0L753.0,627.0L753.5,629.0L753.9,631.0L754.0,633.0L754.0,635.0L754.0,637.0L754.9,637.0Z" fill="#2476B9"/>
<path d="M758.2,181.7L759.1,181.7L759.1,183.7L759.2,185.7L759.3,187.7L759.4,189.7L759.5,191.7L759.6,193.7L759.6,195.7L759.6,197.7L759.6,199.7L759.6,201.7L759.6,203.7L759.5,205.7L759.5,207.7L759.5,209.7L759.5,211.7L759.5,213.7L759.5,215.7L759.5,217.7L759.5,219.7L759.5,221.7L759.5,223.7L759.5,225.7L759.5,227.7L759.6,229.7L759.6,231.7L759.6,233.7L759.6,235.7L759.7,237.7L759.9,239.7L760.2,241.7L760.4,243.7L760.7,245.7L760.9,247.7L761.1,249.7L761.3,251.7L761.4,253.7L761.6,255.7L761.7,257.7L761.9,259.7L761.9,261.7L762.0,263.7L762.0,265.7L762.1,267.7L762.1,269.7L762.2,271.7L762.2,273.7L762.2,275.7L762.3,277.7L762.3,279.7L762.3,281.7L762.3,283.7L762.4,285.7L762.4,287.7L762.5,289.7L762.6,291.7L762.8,293.7L763.0,295.7L763.2,297.7L763.4,299.7L763.6,301.6L763.9,303.6L764.3,305.6L764.6,307.6L765.0,309.6L765.3,311.6L765.5,313.6L765.6,315.6L765.8,317.6L765.9,319.6L766.0,321.6L766.1,323.6L766.1,325.6L766.1,327.6L766.1,329.6L766.1,331.6L766.1,333.6L766.1,335.6L766.1,337.6L766.1,339.6L766.2,341.6L766.3,343.6L766.4,345.6L766.6,347.6L766.7,349.6L767.0,351.6L767.3,353.6L767.7,355.6L768.1,357.6L768.7,359.6L769.4,361.6L770.2,363.6L770.8,365.6L771.5,367.6L772.2,369.6L772.8,371.6L773.5,373.6L774.2,375.6L774.8,377.6L775.5,379.6L776.3,381.6L777.1,383.6L777.9,385.6L778.8,387.6L779.6,389.6L780.4,391.6L781.3,393.6L782.1,395.6L783.0,397.6L783.9,399.6L784.8,401.6L785.7,403.6L786.6,405.6L787.5,407.6L788.5,409.6L789.4,411.6L790.3,413.6L791.2,415.6L792.1,417.6L793.2,419.6L794.4,421.6L795.7,423.6L797.2,425.6L798.7,427.6L800.1,429.6L801.6,431.6L803.2,433.6L804.7,435.6L806.2,437.6L807.7,439.6L809.2,441.6L810.6,443.6L812.1,445.6L813.6,447.6L815.1,449.6L816.7,451.6L818.3,453.6L819.9,455.6L821.6,457.6L823.4,459.6L825.4,461.6L827.4,463.6L829.4,465.6L831.5,467.6L833.6,469.6L835.8,471.6L838.0,473.6L840.2,475.6L842.4,477.6L844.6,479.6L846.8,481.6L848.8,483.6L850.7,485.6L852.5,487.6L854.2,489.6L855.7,491.6L857.2,493.6L858.5,495.6L859.7,497.6L860.7,499.6L861.5,501.6L862.3,503.6L863.0,505.6L863.6,507.6L864.1,509.6L864.6,511.6L865.0,513.6L865.6,515.6L866.1,517.6L866.5,519.6L867.0,521.6L867.4,523.6L867.8,525.6L868.1,527.6L868.2,529.6L868.3,531.6L868.4,533.6L868.4,535.6L867.9,537.5L867.2,539.5L866.1,541.5L864.4,543.5L862.2,545.5L859.5,547.5L856.3,549.5L853.0,551.5L849.5,553.5L846.0,555.5L842.4,557.5L838.8,559.5L835.3,561.5L831.8,563.5L828.4,565.5L824.9,567.5L821.3,569.5L817.9,571.5L814.6,573.5L811.3,575.5L808.2,577.5L805.2,579.5L802.3,581.5L799.5,583.5L796.8,585.5L794.0,587.5L791.2,589.5L788.5,591.5L786.1,593.5L783.8,595.5L781.7,597.5L779.6,599.5L777.6,601.5L775.7,603.5L774.1,605.5L772.6,607.5L771.3,609.5L770.1,611.5L769.1,613.5L768.1,615.5L767.2,617.5L766.4,619.5L765.5,621.5L764.8,623.5L764.1,625.5L763.5,627.5L762.9,629.5L762.3,631.5L761.8,633.5L761.4,635.5L760.9,637.5L760.5,639.5L760.2,641.5L759.9,643.5L759.6,645.5L759.3,647.5L759.1,649.5L759.1,651.5L759.1,653.5L759.1,655.5L758.2,655.5Z" fill="#FADA41"/>
<rect x="753.70" y="266.7" width="1.2" height="11.0" fill="#2476B9" opacity="0.3"/>
<rect x="753.70" y="277.7" width="1.2" height="15.5" fill="#2476B9" opacity="0.75"/>
<line x1="100.9" x2="907.5" y1="427.7" y2="427.7" stroke="#000" stroke-width="2.8" stroke-dasharray="2.73 8.18 10.91 8.18"/>
<line x1="238.95" x2="238.95" y1="471.0" y2="545.2" stroke="#000" stroke-width="2.8"/>
<circle cx="238.95" cy="512.3" r="9.0" fill="#000"/>
<line x1="264.60" x2="264.60" y1="453.1" y2="542.1" stroke="#000" stroke-width="2.8"/>
<circle cx="264.60" cy="505.4" r="9.0" fill="#000"/>
<line x1="491.70" x2="491.70" y1="473.8" y2="544.7" stroke="#000" stroke-width="2.8"/>
<circle cx="491.70" cy="514.3" r="9.0" fill="#000"/>
<line x1="516.80" x2="516.80" y1="441.4" y2="541.5" stroke="#000" stroke-width="2.8"/>
<circle cx="516.80" cy="499.2" r="9.0" fill="#000"/>
<line x1="743.90" x2="743.90" y1="475.3" y2="543.9" stroke="#000" stroke-width="2.8"/>
<circle cx="743.90" cy="514.7" r="9.0" fill="#000"/>
<line x1="769.10" x2="769.10" y1="454.5" y2="542.5" stroke="#000" stroke-width="2.8"/>
<circle cx="769.10" cy="504.3" r="9.0" fill="#000"/>
<text x="251.8" y="118" font-size="27" text-anchor="middle" fill="#000">***</text>
<text x="504.1" y="118" font-size="27" text-anchor="middle" fill="#000">***</text>
<text x="756.55" y="118" font-size="27" text-anchor="middle" fill="#000">***</text>
<path d="M907.4,86.3V813.1H100.2" fill="none" stroke="#4a4a4a" stroke-width="1.4"/>
<path d="M101.1,813.5V87.25H908.1" fill="none" stroke="#333" stroke-width="1.9"/>
<g stroke="#222" stroke-width="2.6">
<line x1="93.7" x2="101.0" y1="119.8" y2="119.8"/>
<line x1="93.7" x2="101.0" y1="324.8" y2="324.8"/>
<line x1="93.7" x2="101.0" y1="530.0" y2="530.0"/>
<line x1="93.7" x2="101.0" y1="735.4" y2="735.4"/>
<line x1="251.8" x2="251.8" y1="813.0" y2="820.8"/>
<line x1="504.1" x2="504.1" y1="813.0" y2="820.8"/>
<line x1="756.55" x2="756.55" y1="813.0" y2="820.8"/>
</g>
<text x="88.2" y="128.8" font-size="23.2" text-anchor="end" fill="#4d4d4d">100</text>
<text x="88.2" y="333.8" font-size="23.2" text-anchor="end" fill="#4d4d4d">50</text>
<text x="88.2" y="539.0" font-size="23.2" text-anchor="end" fill="#4d4d4d">0</text>
<text x="88.2" y="744.4" font-size="23.2" text-anchor="end" fill="#4d4d4d">−50</text>
<text transform="translate(264.2,837.6) rotate(-45)" font-size="23.1" text-anchor="end" fill="#262626">LVIDDi</text>
<text transform="translate(516.5,837.6) rotate(-45)" font-size="23.1" text-anchor="end" fill="#262626">LVIDSi</text>
<text transform="translate(768.9,837.6) rotate(-45)" font-size="23.1" text-anchor="end" fill="#262626">LVMI</text>
<text transform="translate(36.2,450) rotate(-90)" font-size="27.9" text-anchor="middle" fill="#000">Percentage of Scr elevation(%)</text>
<text x="518" y="32.1" font-size="27.8" fill="#000">Group</text>
<rect x="612.9" y="3.8" width="37.5" height="37.2" fill="#2476B9"/>
<line x1="631.7" x2="631.7" y1="4.3" y2="40.5" stroke="#000" stroke-width="2.7"/>
<circle cx="631.7" cy="22.3" r="9.2" fill="#000"/>
<text x="667.0" y="30.8" font-size="23.4" fill="#000">normal</text>
<rect x="750.3" y="3.8" width="37.5" height="37.2" fill="#FADA41"/>
<line x1="769.1" x2="769.1" y1="4.3" y2="40.5" stroke="#000" stroke-width="2.7"/>
<circle cx="769.1" cy="22.3" r="9.2" fill="#000"/>
<text x="804.8" y="30.8" font-size="23.4" fill="#000">abnormal</text>
<g font-size="31" fill="#000">
<text x="278" y="1033.8" text-anchor="middle" font-weight="bold" font-size="30.3">LVIDDi</text>
<text x="542" y="1033.8" text-anchor="middle" font-weight="bold" font-size="30.3">LVIDSi</text>
<text x="806" y="1033.8" text-anchor="middle" font-weight="bold" font-size="30.3">LVMI</text>
<text x="138.7" y="1084.6" text-anchor="end" font-style="italic" font-size="30.7">Normal</text>
<text x="278" y="1084.6" text-anchor="middle">230/1692(13.5%)</text>
<text x="542" y="1084.6" text-anchor="middle">258/2058(12.5%)</text>
<text x="806" y="1084.6" text-anchor="middle">153/1290(11.8%)</text>
<text x="138.7" y="1135.5" text-anchor="end" font-style="italic" font-size="30.7">Abnormal</text>
<text x="278" y="1135.5" text-anchor="middle">301/1555(19.3%)</text>
<text x="542" y="1135.5" text-anchor="middle">273/1189(22.9%)</text>
<text x="806" y="1135.5" text-anchor="middle">378/1957(19.3%)</text>
<text x="138.7" y="1187.0" text-anchor="end" font-style="italic" font-size="30.7">P−value</text>
<text x="278" y="1187.0" text-anchor="middle">&lt;0.001</text>
<text x="542" y="1187.0" text-anchor="middle">&lt;0.001</text>
<text x="806" y="1187.0" text-anchor="middle">&lt;0.001</text>
</g>
</svg>
</body></html>
